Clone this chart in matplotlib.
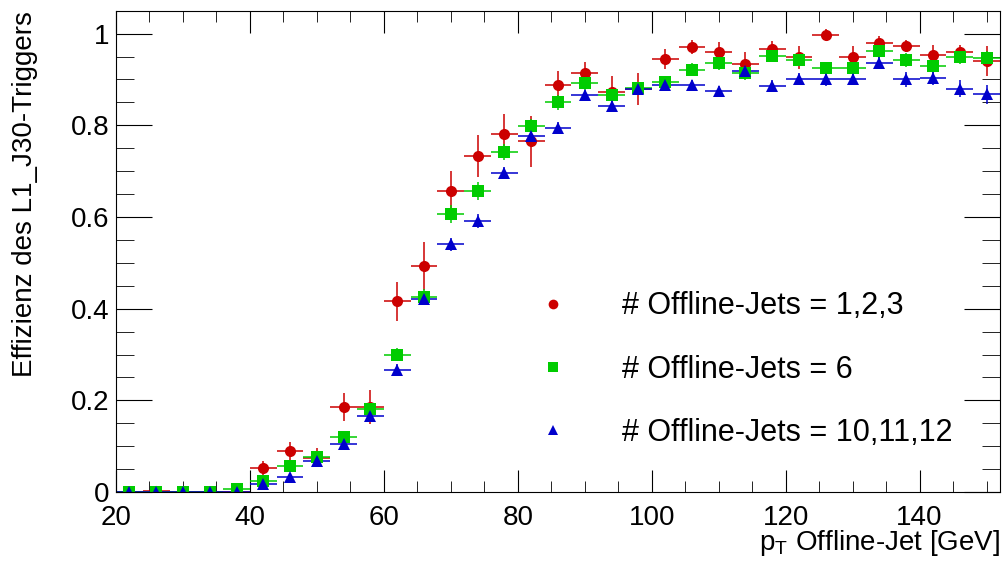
import numpy as np
import matplotlib
matplotlib.use("Agg")
import matplotlib.pyplot as plt
from matplotlib.lines import Line2D
from matplotlib.ticker import MultipleLocator, FuncFormatter

plt.rcParams["font.family"] = ["Liberation Sans", "DejaVu Sans"]
plt.rcParams["mathtext.default"] = "regular"

# bin centres (4 GeV bins from 20 to 152)
pt = np.arange(22, 152, 4)
pt_half_width = 2.0

labels = ["# Offline-Jets = 1,2,3", "# Offline-Jets = 6", "# Offline-Jets = 10,11,12"]

eff_123 = [0.0, 0.002, 0.0, 0.0, 0.0, 0.053, 0.089, 0.075, 0.185, 0.185,
           0.416, 0.493, 0.657, 0.733, 0.782, 0.765, 0.889, 0.915, 0.873, 0.880,
           0.944, 0.971, 0.960, 0.933, 0.967, 0.948, 0.998, 0.949, 0.980, 0.973,
           0.953, 0.959, 0.940]
err_123 = [0.0, 0.003, 0.0, 0.0, 0.0, 0.015, 0.02, 0.02, 0.03, 0.037,
           0.043, 0.053, 0.044, 0.045, 0.042, 0.055, 0.03, 0.022, 0.035, 0.035,
           0.022, 0.016, 0.022, 0.027, 0.017, 0.025, 0.012, 0.024, 0.015, 0.014,
           0.023, 0.017, 0.032]

eff_6 = [0.0, 0.0, 0.0, 0.0, 0.006, 0.023, 0.057, 0.077, 0.119, 0.181,
         0.300, 0.426, 0.606, 0.656, 0.742, 0.798, 0.850, 0.892, 0.867, 0.882,
         0.895, 0.921, 0.935, 0.914, 0.951, 0.943, 0.924, 0.924, 0.961, 0.943,
         0.929, 0.948, 0.947]
err_6 = [0.0, 0.0, 0.0, 0.0, 0.003, 0.008, 0.01, 0.01, 0.012, 0.014,
         0.015, 0.016, 0.02, 0.02, 0.018, 0.016, 0.016, 0.014, 0.014, 0.013,
         0.013, 0.014, 0.014, 0.015, 0.014, 0.014, 0.015, 0.015, 0.014, 0.015,
         0.015, 0.015, 0.015]

eff_101112 = [0.0, 0.0, 0.0, 0.0, 0.0, 0.017, 0.033, 0.068, 0.104, 0.166,
              0.267, 0.421, 0.540, 0.591, 0.696, 0.776, 0.795, 0.867, 0.842, 0.880,
              0.889, 0.887, 0.874, 0.919, 0.885, 0.900, 0.900, 0.902, 0.935, 0.900,
              0.904, 0.880, 0.868]
err_101112 = [0.0, 0.0, 0.0, 0.0, 0.0, 0.006, 0.008, 0.009, 0.01, 0.012,
              0.013, 0.014, 0.015, 0.015, 0.014, 0.013, 0.012, 0.011, 0.011, 0.011,
              0.011, 0.012, 0.012, 0.012, 0.013, 0.013, 0.014, 0.014, 0.013, 0.016,
              0.016, 0.018, 0.021]

series = [
    (eff_123, err_123, "#cc0000", "o", 8),
    (eff_6, err_6, "#00cc00", "s", 8),
    (eff_101112, err_101112, "#0000cc", "^", 8.5),
]

fig = plt.figure(figsize=(10.05, 5.66), dpi=100)
ax = fig.add_axes([0.1154, 0.1307, 0.8796, 0.8504])

handles = []
for (vals, errs, col, mk, ms), lab in zip(series, labels):
    ax.errorbar(pt, vals, xerr=pt_half_width, yerr=errs, fmt=mk, color=col,
                ms=ms, mew=0, elinewidth=1.1, capsize=3, capthick=1.1)
    handles.append(Line2D([], [], ls="none", marker=mk, color=col, ms=ms - 1, mew=0))

ax.set_xlim(20, 152)
ax.set_ylim(0, 1.05)

ax.xaxis.set_major_locator(MultipleLocator(20))
ax.xaxis.set_minor_locator(MultipleLocator(5))
ax.yaxis.set_major_locator(MultipleLocator(0.2))
ax.yaxis.set_minor_locator(MultipleLocator(0.05))
ax.yaxis.set_major_formatter(FuncFormatter(lambda v, _: f"{v:g}"))

ax.tick_params(which="both", direction="in", top=True, right=True, labelsize=20)
ax.tick_params(axis="x", which="major", length=16, pad=9)
ax.tick_params(axis="x", which="minor", length=8)
ax.tick_params(axis="y", which="major", length=26, pad=5)
ax.tick_params(axis="y", which="minor", length=13)

ax.set_xlabel("$p_{T}$ Offline-Jet [GeV]", fontsize=20, loc="right")
ax.xaxis.set_label_coords(1.0, -0.075)
ax.set_ylabel("Effizienz des L1_J30-Triggers", fontsize=20, loc="top")
ax.yaxis.set_label_coords(-0.088, 1.0)

ax.legend(handles, labels, frameon=False, fontsize=22, loc="upper left",
          bbox_to_anchor=(507 / 1005, 1 - 276 / 566), bbox_transform=fig.transFigure,
          borderpad=0, handlelength=2.0, handletextpad=1.25, labelspacing=1.09,
          numpoints=1)

fig.savefig("out.png", dpi=100)
